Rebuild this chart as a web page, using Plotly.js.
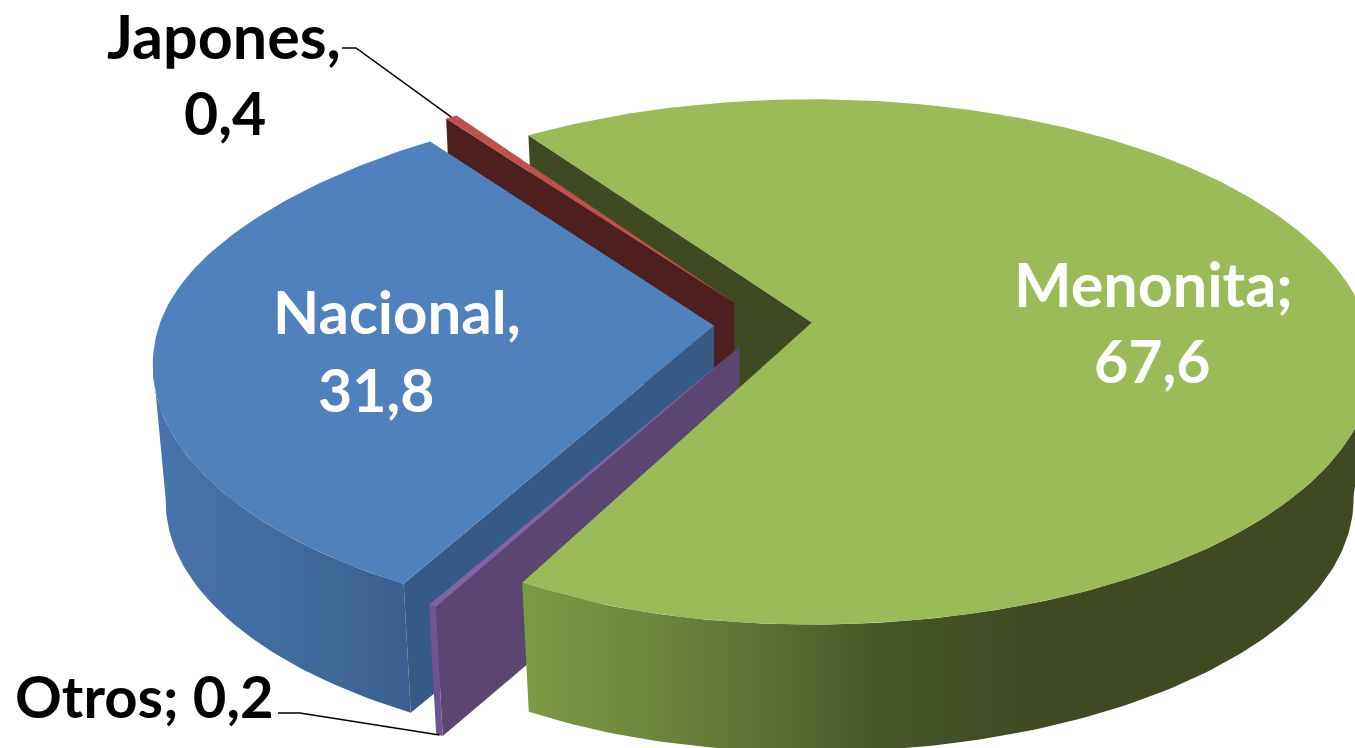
<!DOCTYPE html>
<html>
<head>
<meta charset="utf-8">
<script src="https://cdn.plot.ly/plotly-3.0.1.min.js"></script>
<style>html,body{margin:0;padding:0;background:#fff;overflow:hidden}#chart{width:1355px;height:748px}</style>
</head>
<body>
<div id="chart"></div>
<script>
// ---- data ----
const categories = ['Menonita', 'Otros', 'Nacional', 'Japones'];
const values = [67.6, 0.2, 31.8, 0.4];
const separators = [';', ';', ',', ','];

// ---- look ----
const topColors = ['#9BBB59', '#8064A2', '#4F81BD', '#C0504D'];
const cutColors = ['#3F4922', '#5B4571', '#375A85', '#4D1F1E'];
const wallScales = [
  [[0, '#7D9A45'], [0.18, '#6A8339'], [0.42, '#46562A'], [0.62, '#3F4922'], [1, '#3F4922']],
  [[0, '#6E5490'], [1, '#6E5490']],
  [[0, '#4875AD'], [0.7, '#3F6798'], [1, '#3A5F8E']],
  [[0, '#4D1F1E'], [1, '#4D1F1E']]
];
const firstAngle = 325;             // degrees, clockwise from the back of the pie
const hub = {x: 763, y: 324};       // pie centre before the slices are pulled out
const pull = {x: 49, y: 26};
const radius = {x: 555, y: 256.7};
const perspective = 0.15;
const frontSkew = 0.11;             // front-left rim of right-hand slices sits closer in
const rearSkew = 0.09;              // rear-left rim of left-hand slices sits closer in
const base = {drop: 138, scaleRight: 0.965, scaleLeft: 0.977, scaleY: 0.965};
const wallRange = [98, 262];        // rim angles where the wall outline turns

const rad = d => d * Math.PI / 180;
const total = values.reduce((a, b) => a + b, 0);

// angular extent of each slice, from the values
let running = firstAngle;
const slices = values.map((v, i) => {
  const start = running, end = running + v / total * 360;
  running = end;
  const mid = rad((start + end) / 2);
  return {i, start, end, pullU: Math.sin(mid),
    apex: {x: hub.x + pull.x * Math.sin(mid), y: hub.y - pull.y * Math.cos(mid)}};
});

function project(sl, deg, lower) {
  const u = Math.sin(rad(deg)), v = -Math.cos(rad(deg));
  const s = 1 / (1 - perspective * v);
  const kx = lower ? (u < 0 ? base.scaleLeft : base.scaleRight) : 1;
  const ky = lower ? base.scaleY : 1;
  const left = Math.max(-u, 0), back = Math.max(-v, 0);
  const warp = 1
    - frontSkew * Math.max(sl.pullU, 0) * left * Math.max(v, 0)
    - rearSkew * Math.max(-sl.pullU, 0) * left * back * back;
  return {
    x: sl.apex.x + kx * radius.x * u * s * warp,
    y: sl.apex.y + ky * radius.y * v * s + (lower ? base.drop : 0)
  };
}
function arc(sl, a, b, lower) {
  const pts = [], n = Math.max(2, Math.ceil(Math.abs(b - a)));
  for (let j = 0; j <= n; j++) pts.push(project(sl, a + (b - a) * j / n, lower));
  return pts;
}
function poly(pts, color, extra) {
  return Object.assign({
    type: 'scatter', mode: 'lines', x: pts.map(p => p.x), y: pts.map(p => p.y),
    fill: 'toself', fillcolor: color, line: {width: 0, color: color},
    hoverinfo: 'skip', showlegend: false
  }, extra || {});
}
function topFace(sl) {
  return poly([sl.apex, ...arc(sl, sl.start, sl.end, false), sl.apex], topColors[sl.i]);
}
function cutFace(sl) {
  const a = project(sl, sl.start, false), b = project(sl, sl.start, true);
  const apexLow = {x: sl.apex.x, y: sl.apex.y + base.drop};
  return poly([sl.apex, a, b, apexLow, sl.apex], cutColors[sl.i]);
}
function outerWall(sl) {
  let a = sl.start, b = sl.end;
  // unwrap so that the range falls inside the visible, front part of the rim
  if (b > 360 && a < 360) { a = wallRange[0]; b = sl.end - 360; }
  else if (a >= 360) { a -= 360; b -= 360; }
  a = Math.max(a, wallRange[0]); b = Math.min(b, wallRange[1]);
  const up = arc(sl, a, b, false), low = arc(sl, b, a, true);
  return poly([...up, ...low, up[0]], wallScales[sl.i][0][1], {
    fillgradient: {type: 'horizontal', colorscale: wallScales[sl.i]}
  });
}

const [meno, otros, nac, jap] = slices;
const traces = [
  cutFace(meno),
  cutFace(jap), topFace(jap),
  cutFace(nac), outerWall(nac), topFace(nac),
  cutFace(otros), outerWall(otros), topFace(otros),
  outerWall(meno), topFace(meno)
];

// leader lines run from the slice rim to the label
function leader(sl, lower, elbow, end) {
  const m = project(sl, (sl.start + sl.end) / 2, lower);
  return {type: 'scatter', mode: 'lines', x: [end.x, elbow.x, m.x], y: [end.y, elbow.y, m.y],
    line: {color: '#000', width: 1.5}, hoverinfo: 'skip', showlegend: false};
}
traces.push(leader(jap, false, {x: 356, y: 48}, {x: 342, y: 48}));
traces.push(leader(otros, true, {x: 300, y: 713}, {x: 278, y: 713}));

const fmt = v => String(v).replace('.', ',');
const name = i => categories[i] + separators[i];
const font = 'Lato, Carlito, Calibri, sans-serif';
const label = (text, x, y, color, size) => ({
  text: '<b>' + text + '</b>', x, y, xref: 'x', yref: 'y', showarrow: false,
  xanchor: 'center', yanchor: 'middle', font: {family: font, size, color}
});
const annotations = [
  label(name(0), 1153, 283, '#fff', 61), label(fmt(values[0]), 1152, 360, '#fff', 59),
  label(name(2), 397, 311, '#fff', 60), label(fmt(values[2]), 376, 389, '#fff', 59),
  label(name(3), 224, 35, '#000', 61), label(fmt(values[3]), 225, 112, '#000', 59),
  label(name(1) + ' ' + fmt(values[1]), 144, 695, '#000', 58)
];

const hidden = {visible: false, fixedrange: true, showgrid: false, zeroline: false};
Plotly.newPlot('chart', traces, {
  width: 1355, height: 748,
  margin: {l: 0, r: 0, t: 0, b: 0},
  paper_bgcolor: '#fff', plot_bgcolor: '#fff',
  xaxis: Object.assign({range: [0, 1355]}, hidden),
  yaxis: Object.assign({range: [748, 0]}, hidden),
  annotations, showlegend: false
}, {displayModeBar: false, staticPlot: true});
</script>
</body>
</html>
